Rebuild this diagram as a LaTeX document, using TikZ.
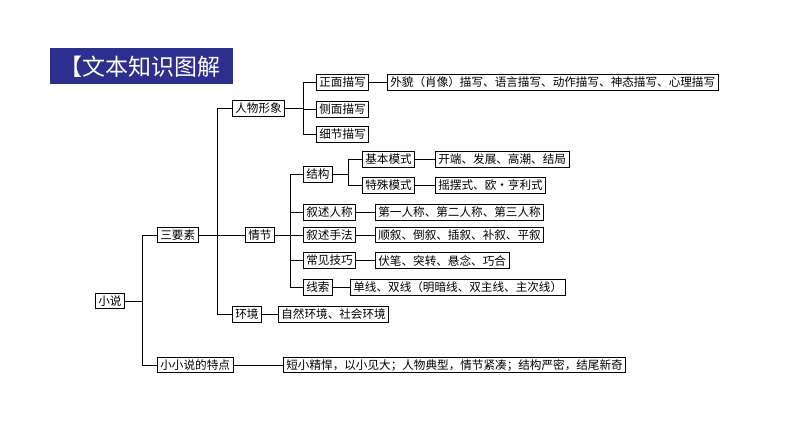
\documentclass[tikz,border=0pt]{standalone}
\usepackage{fontspec}
\setmainfont{Noto Sans CJK SC}
\usepackage{tikz}
\usetikzlibrary{calc,positioning}
\definecolor{banner}{RGB}{44,47,142}
\tikzset{
    item/.style={
    rectangle,draw=black,line width=0.7pt,inner xsep=3pt,inner ysep=1.4pt,minimum height=15.5pt,anchor=west,font=\fontsize{11.6}{13}\selectfont
    },
    branch/.style={
    draw=black,line width=0.6pt
    },
}

\begin{document}
\begin{tikzpicture}[x=1pt, y=-1pt]
   \useasboundingbox (0,0) rectangle (794,447);

   %title
   \node[fill=banner,minimum width=183pt,minimum height=36pt,inner sep=0pt] (ban) at (141.5,66) {};
   \node[text=white,font=\fontsize{23}{25}\selectfont,anchor=west,inner sep=0pt] (tit) at (59,67) {【文本知识图解};

   %root
   \node[item] (xs) at (95,301) {小说};
   \node[item] (sys) at (157,235) {三要素};
   \node[item] (xxs) at (157,365) {小小说的特点};
   \node[item] (xxsd) at (283,365) {短小精悍，以小见大；人物典型，情节紧凑；结构严密，结尾新奇};

   %three elements
   \node[item] (rw) at (232,108.5) {人物形象};
   \node[item] (qj) at (245,235) {情节};
   \node[item] (hj) at (232,314.5) {环境};
   \node[item] (hjd) at (278,314.5) {自然环境、社会环境};

   %characters
   \node[item] (zm) at (316,82.5) {正面描写};
   \node[item] (cm) at (316,109.5) {侧面描写};
   \node[item] (xj) at (316,134.5) {细节描写};
   \node[item] (zmd) at (387,82.5) {外貌（肖像）描写、语言描写、动作描写、神态描写、心理描写};

   %plot
   \node[item] (jg) at (303,174.5) {结构};
   \node[item] (jb) at (362,159.5) {基本模式};
   \node[item] (ts) at (362,185.5) {特殊模式};
   \node[item] (jbd) at (435,159.5) {开端、发展、高潮、结局};
   \node[item] (tsd) at (435,185.5) {摇摆式、欧·亨利式};
   \node[item] (rc) at (303,212.5) {叙述人称};
   \node[item] (rcd) at (375,212.5) {第一人称、第二人称、第三人称};
   \node[item] (sf) at (303,235) {叙述手法};
   \node[item] (sfd) at (375,235) {顺叙、倒叙、插叙、补叙、平叙};
   \node[item] (jq) at (303,260.5) {常见技巧};
   \node[item] (jqd) at (375,260.5) {伏笔、突转、悬念、巧合};
   \node[item] (xsu) at (303,287.5) {线索};
   \node[item] (xsud) at (350,287.5) {单线、双线（明暗线、双主线、主次线）};

   %junctions
   \coordinate (b1) at (142,0);
   \coordinate (b2) at (217,0);
   \coordinate (b3) at (303,0);
   \coordinate (b4) at (290,0);
   \coordinate (b5) at (348,0);

   %tree
   \draw[branch] (xs.east) -- (xs.east -| b1);
   \draw[branch] (sys.west) -- (sys.west -| b1) -- (xxs.west -| b1) -- (xxs.west);
   \draw[branch] (xxs.east) -- (xxsd.west);

   \draw[branch] (sys.east) -- (qj.west);
   \draw[branch] (rw.west) -- (rw.west -| b2) -- (hj.west -| b2) -- (hj.west);
   \draw[branch] (hj.east) -- (hjd.west);

   \draw[branch] (rw.east) -- (rw.east -| b3);
   \draw[branch] (zm.west) -- (zm.west -| b3) -- (xj.west -| b3) -- (xj.west);
   \draw[branch] (cm.west) -- (cm.west -| b3);
   \draw[branch] (zm.east) -- (zmd.west);

   \draw[branch] (qj.east) -- (qj.east -| b4);
   \draw[branch] (jg.west) -- (jg.west -| b4) -- (xsu.west -| b4) -- (xsu.west);
   \foreach \n in {rc,sf,jq}
     \draw[branch] (\n.west) -- (\n.west -| b4);
   \draw[branch] (jg.east) -- (jg.east -| b5);
   \draw[branch] (jb.west) -- (jb.west -| b5) -- (ts.west -| b5) -- (ts.west);
   \draw[branch] (jb.east) -- (jbd.west);
   \draw[branch] (ts.east) -- (tsd.west);
   \draw[branch] (rc.east) -- (rcd.west);
   \draw[branch] (sf.east) -- (sfd.west);
   \draw[branch] (jq.east) -- (jqd.west);
   \draw[branch] (xsu.east) -- (xsud.west);
\end{tikzpicture}
\end{document}
